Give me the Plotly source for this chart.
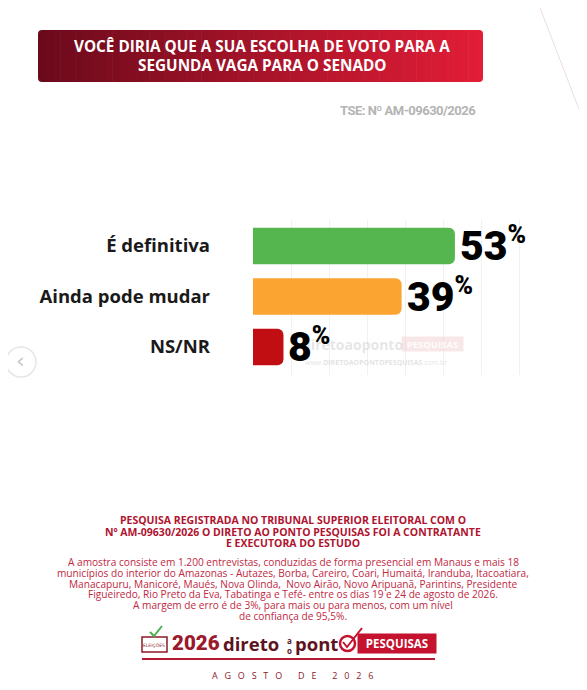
import plotly.graph_objects as go

# data
categories = ["É definitiva", "Ainda pode mudar", "NS/NR"]
values = [53, 39, 8]
bar_colors = ["#55b64f", "#fba431", "#c10e12"]

title_lines = ["VOCÊ DIRIA QUE A SUA ESCOLHA DE VOTO PARA A", "SEGUNDA VAGA PARA O SENADO"]
tse_text = "TSE: Nº AM-09630/2026"
note_bold = [
    "PESQUISA REGISTRADA NO TRIBUNAL SUPERIOR ELEITORAL COM O",
    "Nº AM-09630/2026 O DIRETO AO PONTO PESQUISAS FOI A CONTRATANTE",
    "E EXECUTORA DO ESTUDO",
]
note_body = [
    "A amostra consiste em 1.200 entrevistas, conduzidas de forma presencial em Manaus e mais 18",
    "municípios do interior do Amazonas - Autazes, Borba, Careiro, Coari, Humaitá, Iranduba, Itacoatiara,",
    "Manacapuru, Manicoré, Maués, Nova Olinda,  Novo Airão, Novo Aripuanã, Parintins, Presidente",
    "Figueiredo, Rio Preto da Eva, Tabatinga e Tefé- entre os dias 19 e 24 de agosto de 2026.",
    "A margem de erro é de 3%, para mais ou para menos, com um nível",
    "de confiança de 95,5%.",
]
date_text = "AGOSTO DE 2026"

# page body has an 8px margin, so the figure is drawn 8px in from the corner
OFF = 8
W, H = 587 - OFF, 690 - OFF


def px(x):
    return (x - OFF) / W


def py(y):
    return 1 - (y - OFF) / H


def lerp_color(c1, c2, t):
    a = [int(c1[i:i + 2], 16) for i in (1, 3, 5)]
    b = [int(c2[i:i + 2], 16) for i in (1, 3, 5)]
    return "rgb(%d,%d,%d)" % tuple(round(a[k] + (b[k] - a[k]) * t) for k in range(3))


def heavy(txt):
    return '<span style="font-family:Roboto;font-weight:900">%s</span>' % txt


shapes = []
annotations = []


def note(text, x, y, size, color, family="Open Sans", xanchor="center", **kw):
    annotations.append(dict(text=text, xref="paper", yref="paper", x=px(x), y=py(y),
                            xanchor=xanchor, yanchor="middle", showarrow=False,
                            font=dict(family=family, size=size, color=color), **kw))


fig = go.Figure()
fig.add_trace(go.Bar(
    x=values, y=categories, orientation="h",
    marker=dict(color=bar_colors, line=dict(width=0)),
    hoverinfo="skip",
))

# title box with left-to-right gradient (thin strips)
x0, x1, y0, y1 = 38, 483, 30, 82
n = 60
left_c, right_c = "#6a0a1b", "#e31d37"
r = 4
for i in range(n):
    a = x0 + (x1 - x0) * i / n
    b = x0 + (x1 - x0) * (i + 1) / n
    c = lerp_color(left_c, right_c, (i + 0.5) / n)
    if i == 0:
        a += r
    if i == n - 1:
        b -= r
    shapes.append(dict(type="rect", xref="paper", yref="paper", x0=px(a), x1=px(b + 0.6),
                       y0=py(y1), y1=py(y0), fillcolor=c, line=dict(width=0), layer="below"))
for xa, xb, c in [(x0, x0 + r, left_c), (x1 - r, x1, right_c)]:
    shapes.append(dict(type="rect", xref="paper", yref="paper", x0=px(xa), x1=px(xb),
                       y0=py(y1 - r), y1=py(y0 + r), fillcolor=c, line=dict(width=0), layer="below"))
for cx, cy, c in [(x0 + r, y0 + r, left_c), (x0 + r, y1 - r, left_c),
                  (x1 - r, y0 + r, right_c), (x1 - r, y1 - r, right_c)]:
    shapes.append(dict(type="circle", xref="paper", yref="paper",
                       x0=px(cx - r), x1=px(cx + r), y0=py(cy + r), y1=py(cy - r),
                       fillcolor=c, line=dict(width=0), layer="below"))

for k, line in enumerate(title_lines):
    note("<b>%s</b>" % line, 262, 46 + k * 19, 15.3, "white")

note('<span style="letter-spacing:-0.5px;font-weight:bold">%s</span>' % tse_text,
     478, 111, 13, "#b4b4b4", family="Roboto", xanchor="right")

# faint decorative lines on the right
for (xa, ya, xb, yb) in [(537, 0, 587, 130), (587, 268, 580, 295), (580, 295, 587, 305)]:
    shapes.append(dict(type="line", xref="paper", yref="paper", x0=px(xa), y0=py(ya), x1=px(xb), y1=py(yb),
                       line=dict(color="#ecdcde", width=1)))

# watermark behind the chart
note("<b>diretoaoponto</b>", 300, 344, 14, "rgba(200,200,200,0.45)", xanchor="left")
annotations.append(dict(text="<b>PESQUISAS</b>", xref="paper", yref="paper", x=px(432), y=py(344),
                        xanchor="center", yanchor="middle", showarrow=False,
                        bgcolor="rgba(232,185,190,0.35)", width=59, height=12,
                        font=dict(family="Open Sans", size=9.5, color="rgba(255,255,255,0.95)")))
note("www.<b>DIRETOAOPONTOPESQUISAS</b>.com.br", 376, 362, 7, "rgba(200,200,200,0.5)")

# value labels
for cat, v in zip(categories, values):
    annotations.append(dict(text=heavy('%d<sup><span style="font-size:25px">%%</span></sup>' % v),
                            x=v, y=cat, xref="x", yref="y",
                            xanchor="left", yanchor="middle", xshift=3, yshift=1, showarrow=False,
                            font=dict(family="Roboto", size=41, color="#000000")))

# left nav circle
shapes.append(dict(type="circle", xref="paper", yref="paper", x0=px(6), x1=px(36), y0=py(377), y1=py(347),
                   fillcolor="white", line=dict(color="#e6e6e6", width=1.5)))
note("‹", 20, 360, 22, "#c8c8c8", family="DejaVu Sans")

# footer notes
for k, line in enumerate(note_bold):
    note("<b>%s</b>" % line, 293, 520 + k * 11.5, 10.5, "#b0142f")
for k, line in enumerate(note_body):
    note(line, 293, 562 + k * 10.8, 10.15, "#c0283f")

# logo row
shapes.append(dict(type="rect", xref="paper", yref="paper", x0=px(142), x1=px(167), y0=py(652), y1=py(637),
                   fillcolor="white", line=dict(color="#8c1a2a", width=1.5)))
shapes.append(dict(type="path", xref="paper", yref="paper",
                   path="M %f %f L %f %f L %f %f" % (px(150), py(632), px(154), py(636), px(162), py(626)),
                   line=dict(color="#4caf50", width=2)))
note("ELEIÇÕES", 154.5, 645, 4.5, "#8c1a2a", family="DejaVu Sans")
note(heavy("2026"), 170, 643, 20.5, "#9a1a2c", family="Roboto", xanchor="left")
note("<b>direto</b>", 221, 643, 18.5, "#5e1320", xanchor="left")
note("<b>a<br>o</b>", 289, 645, 8, "#5e1320")
note("<b>pont</b>", 293, 643, 18.5, "#5e1320", xanchor="left")
shapes.append(dict(type="circle", xref="paper", yref="paper", x0=px(340), x1=px(355), y0=py(651), y1=py(636),
                   fillcolor="white", line=dict(color="#c4122f", width=2.5)))
shapes.append(dict(type="path", xref="paper", yref="paper",
                   path="M %f %f L %f %f L %f %f" % (px(343), py(642), px(347), py(647), px(362), py(628)),
                   line=dict(color="#c4122f", width=2)))
annotations.append(dict(text="<b>PESQUISAS</b>", xref="paper", yref="paper", x=px(397), y=py(643),
                        xanchor="center", yanchor="middle", showarrow=False,
                        bgcolor="#c4122f", width=76, height=17,
                        font=dict(family="Open Sans", size=11.5, color="white")))
shapes.append(dict(type="line", xref="paper", yref="paper", x0=px(142), x1=px(435), y0=py(659), y1=py(659),
                   line=dict(color="#b51a30", width=2)))
note('<span style="letter-spacing:6.8px">%s</span>' % date_text, 296.4, 675, 9, "#8c1a2a")

fig.update_layout(
    width=W, height=H,
    margin=dict(l=0, r=0, t=0, b=0),
    paper_bgcolor="white", plot_bgcolor="white",
    showlegend=False,
    bargap=0.28,
    barcornerradius=6,
    shapes=shapes,
    annotations=annotations,
    xaxis=dict(domain=[px(253), px(253 + 80 * 3.81)], range=[0, 80], showgrid=True, gridcolor="#f1f1f1",
               gridwidth=1, dtick=10, zeroline=False, showticklabels=False, showline=False, fixedrange=True),
    yaxis=dict(domain=[py(375), py(220)], autorange="reversed", showgrid=False, zeroline=False,
               ticks="", ticklabelstandoff=42, fixedrange=True,
               tickfont=dict(family="Open Sans", size=18.5, color="#1a1a1a", weight="bold")),
)

fig.write_html("out.html")
